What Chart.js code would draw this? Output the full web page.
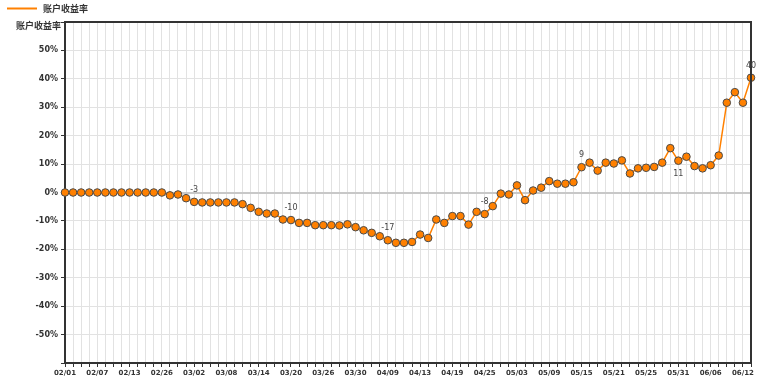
<!DOCTYPE html>
<html>
<head>
<meta charset="utf-8">
<script src="https://cdn.jsdelivr.net/npm/chart.js@4"></script>
<style>
  html, body { margin: 0; padding: 0; background: #fff; }
  #wrap { width: 761px; height: 381px; position: relative; }
</style>
</head>
<body>
<div id="wrap"><canvas id="c" width="761" height="381"></canvas></div>
<script>
const seriesName = '账户收益率';
const categories = [
  '02/01','02/02','02/05','02/06','02/07','02/08','02/09','02/12','02/13','02/14',
  '02/22','02/23','02/26','02/27','02/28','03/01','03/02','03/05','03/06','03/07',
  '03/08','03/09','03/12','03/13','03/14','03/15','03/16','03/19','03/20','03/21',
  '03/22','03/23','03/26','03/27','03/28','03/29','03/30','04/02','04/03','04/04',
  '04/09','04/10','04/11','04/12','04/13','04/16','04/17','04/18','04/19','04/20',
  '04/23','04/24','04/25','04/26','04/27','05/02','05/03','05/04','05/07','05/08',
  '05/09','05/10','05/11','05/14','05/15','05/16','05/17','05/18','05/21','05/22',
  '05/23','05/24','05/25','05/28','05/29','05/30','05/31','06/01','06/04','06/05',
  '06/06','06/07','06/08','06/11','06/12','06/13'
];
const returns = [
  0,0,0,0,0,0,0,0,0,0,
  0,0,0,-1.0,-0.7,-2.0,-3.3,-3.5,-3.5,-3.5,
  -3.5,-3.5,-4.1,-5.4,-6.8,-7.4,-7.4,-9.5,-9.7,-10.7,
  -10.7,-11.5,-11.5,-11.5,-11.6,-11.2,-12.2,-13.3,-14.2,-15.4,
  -16.8,-17.7,-17.7,-17.4,-14.8,-16.0,-9.5,-10.7,-8.3,-8.3,
  -11.3,-6.8,-7.6,-4.8,-0.4,-0.7,2.5,-2.7,0.7,1.7,
  4.0,3.1,3.1,3.6,8.9,10.5,7.7,10.5,10.2,11.3,
  6.7,8.5,8.7,9.0,10.5,15.6,11.2,12.6,9.3,8.5,
  9.6,13.0,31.6,35.3,31.6,40.4
];
const yTicksMin = -60, yTicksMax = 60, yStep = 10;

const TEXT = '#333';
const ORANGE = '#ff8000';

const decorPlugin = {
  id: 'decor',
  afterDraw(chart) {
    const ctx = chart.ctx;
    const a = chart.chartArea;
    ctx.save();
    // frame top & right
    ctx.strokeStyle = '#333';
    ctx.lineWidth = 2;
    ctx.beginPath();
    ctx.moveTo(a.left, a.top);
    ctx.lineTo(a.right, a.top);
    ctx.lineTo(a.right, a.bottom);
    ctx.stroke();
    // legend
    ctx.strokeStyle = ORANGE;
    ctx.lineWidth = 2;
    ctx.beginPath();
    ctx.moveTo(7, 8.5);
    ctx.lineTo(37, 8.5);
    ctx.stroke();
    ctx.fillStyle = TEXT;
    ctx.font = 'bold 9px "Noto Sans CJK SC", "DejaVu Sans", sans-serif';
    ctx.textBaseline = 'middle';
    ctx.textAlign = 'left';
    ctx.fillText(seriesName, 43, 9);
    // y axis title
    ctx.textAlign = 'right';
    ctx.fillText(seriesName, 61, 25.5);
    // data labels
    const meta = chart.getDatasetMeta(0);
    ctx.font = '8px "DejaVu Sans", sans-serif';
    ctx.fillStyle = '#444';
    ctx.textAlign = 'center';
    const below = [76];
    meta.data.forEach((pt, i) => {
      const isLast = i === returns.length - 1;
      if (!(i % 12 === 4 || isLast)) return;
      const v = Math.round(returns[i]);
      if (v === 0) return;
      const dy = below.includes(i) ? 13 : -12;
      ctx.fillText(String(v), pt.x, pt.y + dy);
    });
    ctx.restore();
  }
};

new Chart(document.getElementById('c'), {
  type: 'line',
  data: {
    labels: categories,
    datasets: [{
      label: seriesName,
      data: returns,
      borderColor: ORANGE,
      borderWidth: 1.5,
      backgroundColor: ORANGE,
      pointBackgroundColor: ORANGE,
      pointBorderColor: '#4a4a4a',
      pointBorderWidth: 1,
      pointRadius: 3.8,
      tension: 0,
      fill: false
    }]
  },
  options: {
    responsive: false,
    animation: false,
    events: [],
    layout: { padding: { top: 22, right: 10, left: 0, bottom: 0 } },
    plugins: { legend: { display: false }, tooltip: { enabled: false } },
    scales: {
      x: {
        type: 'category',
        offset: false,
        grid: { color: '#e2e2e2', lineWidth: 1, tickColor: '#333', tickLength: 4 },
        border: { color: '#333', width: 2 },
        ticks: {
          autoSkip: false, maxRotation: 0, minRotation: 0, padding: 2,
          color: TEXT,
          font: { family: '"DejaVu Sans", sans-serif', size: 7, weight: 'bold' },
          callback: (v, i) => (i % 4 === 0 ? categories[i] : '')
        },
        afterFit: s => { s.height = 18; }
      },
      y: {
        min: yTicksMin, max: yTicksMax,
        grid: {
          color: c => (c.tick && c.tick.value === 0 ? '#c8c8c8' : '#e2e2e2'),
          lineWidth: c => (c.tick && c.tick.value === 0 ? 2 : 1),
          tickColor: '#333', tickLength: 4
        },
        border: { color: '#333', width: 2 },
        ticks: {
          stepSize: yStep, padding: 3, color: TEXT,
          font: { family: '"DejaVu Sans", sans-serif', size: 8, weight: 'bold' },
          callback: v => (v === yTicksMin || v === yTicksMax ? '' : v + '%')
        },
        afterFit: s => { s.width = 65; }
      }
    }
  },
  plugins: [decorPlugin]
});
</script>
</body>
</html>
